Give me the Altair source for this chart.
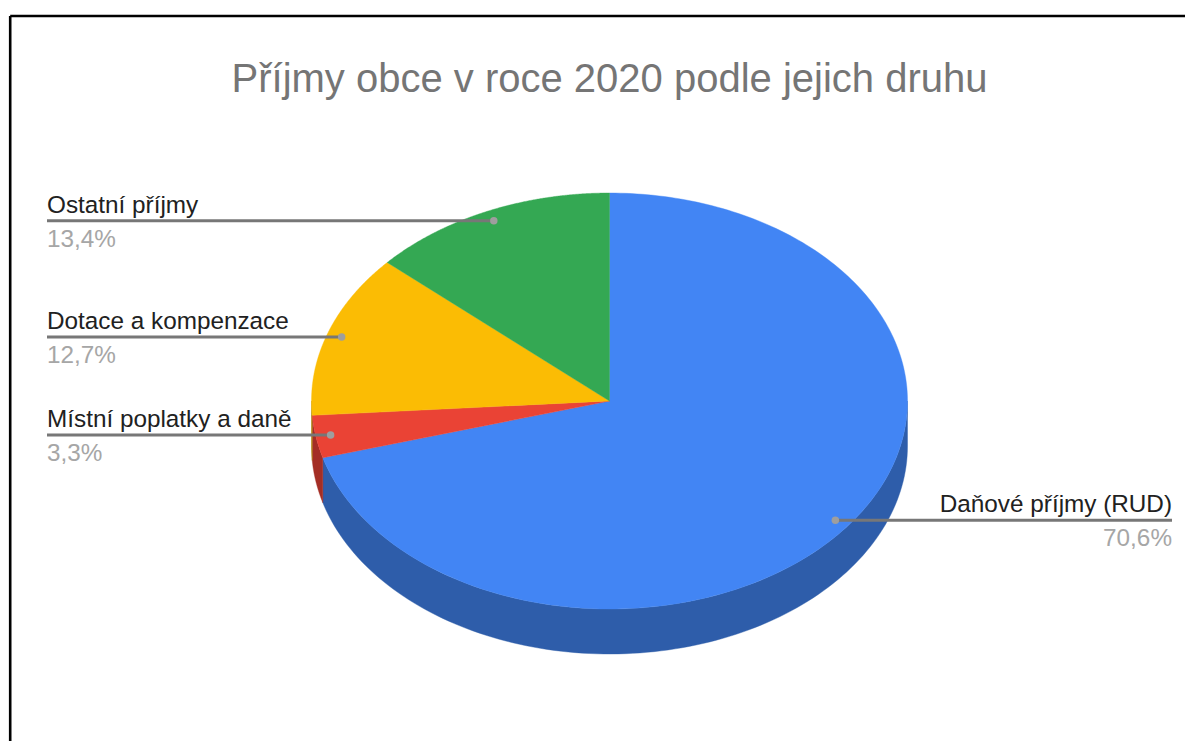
import altair as alt
import numpy as np
import pandas as pd

categories = ["Daňové příjmy (RUD)", "Místní poplatky a daně", "Dotace a kompenzace", "Ostatní příjmy"]
values = [70.6, 3.3, 12.7, 13.4]
percent_labels = ["70,6%", "3,3%", "12,7%", "13,4%"]
top_colors = ["#4285f4", "#ea4335", "#fbbc04", "#34a853"]
side_colors = ["#2e5daa", "#a42e25", "#af8403", "#24753a"]

FONT = "Liberation Sans"
CX, CY, RX, RY, DEPTH = 609.5, 401.0, 298.0, 208.0, 45.0
LEFT_X, RIGHT_X = 47, 1172

W, H = 1177, 733
XS = alt.Scale(domain=[8, 8 + W], nice=False, zero=False)
YS = alt.Scale(domain=[8 + H, 8], nice=False, zero=False)
X = alt.X("x:Q", scale=XS, axis=None)
Y = alt.Y("y:Q", scale=YS, axis=None)


def px(a, k=1.0):
    return CX + RX * k * np.sin(np.radians(a))


def py(a, k=1.0, dy=0.0):
    return CY - RY * k * np.cos(np.radians(a)) + dy


def poly(xv, yv, color):
    df = pd.DataFrame({"x": xv, "y": yv, "i": range(len(xv))})
    return (
        alt.Chart(df)
        .mark_line(fill=color, stroke=color, strokeWidth=0.4, interpolate="linear", clip=False)
        .encode(x=X, y=Y, order=alt.Order("i:Q"))
    )


ends = np.cumsum(values) / np.sum(values) * 360.0
starts = np.concatenate([[0.0], ends[:-1]])
mids = (starts + ends) / 2

layers = []

# side wall: visible only on the front half of the disc
for s, e, c in zip(starts, ends, side_colors):
    lo, hi = max(s, 90.0), min(e, 270.0)
    if hi <= lo:
        continue
    a = np.linspace(lo, hi, 120)
    xv = np.concatenate([px(a), px(a[::-1]), [px(a[0])]])
    yv = np.concatenate([py(a), py(a[::-1], dy=DEPTH), [py(a[0])]])
    layers.append(poly(xv, yv, c))

# top face
for s, e, c in zip(starts, ends, top_colors):
    a = np.linspace(s, e, 240)
    xv = np.concatenate([[CX], px(a), [CX]])
    yv = np.concatenate([[CY], py(a), [CY]])
    layers.append(poly(xv, yv, c))

# leaders and labels
dots = pd.DataFrame({"x": px(mids, 0.95), "y": py(mids, 0.95), "cat": categories, "pct": percent_labels})
dots["right"] = dots["x"] > CX
dots["x0"] = np.where(dots["right"], RIGHT_X, LEFT_X)
dots["ty"] = dots["y"] - 8
dots["py"] = dots["y"] + 26

layers.append(
    alt.Chart(dots).mark_rule(color="#777777", strokeWidth=3).encode(
        x=X, x2="x0:Q", y=Y
    )
)
layers.append(
    alt.Chart(dots).mark_point(filled=True, color="#9e9e9e", opacity=1, size=56).encode(x=X, y=Y)
)
for right, align in [(False, "left"), (True, "right")]:
    sub = dots[dots["right"] == right]
    layers.append(
        alt.Chart(sub).mark_text(font=FONT, fontSize=24.3, color="#212121", align=align, baseline="alphabetic").encode(
            x=alt.X("x0:Q", scale=XS, axis=None), y=alt.Y("ty:Q", scale=YS, axis=None), text="cat:N"
        )
    )
    layers.append(
        alt.Chart(sub).mark_text(font=FONT, fontSize=24.3, color="#a6a6a6", align=align, baseline="alphabetic").encode(
            x=alt.X("x0:Q", scale=XS, axis=None), y=alt.Y("py:Q", scale=YS, axis=None), text="pct:N"
        )
    )

# title and frame
title_df = pd.DataFrame({"x": [609.5], "y": [92], "t": ["Příjmy obce v roce 2020 podle jejich druhu"]})
layers.append(
    alt.Chart(title_df).mark_text(font=FONT, fontSize=40, color="#757575", align="center", baseline="alphabetic").encode(
        x=X, y=Y, text="t:N"
    )
)
frame_df = pd.DataFrame({"k": [0]})
layers.append(
    alt.Chart(frame_df).mark_rule(color="#000000", strokeWidth=2.6).encode(
        x=alt.value(2.2), y=alt.value(8), x2=alt.value(W)
    )
)
layers.append(
    alt.Chart(frame_df).mark_rule(color="#000000", strokeWidth=2.6).encode(
        x=alt.value(2.2), y=alt.value(8), y2=alt.value(H)
    )
)

chart = (
    alt.layer(*layers)
    .properties(width=W, height=H, padding=0, background="#ffffff")
    .configure_view(stroke=None)
)
chart.save("out.html", embed_options={"renderer": "svg", "actions": False})
